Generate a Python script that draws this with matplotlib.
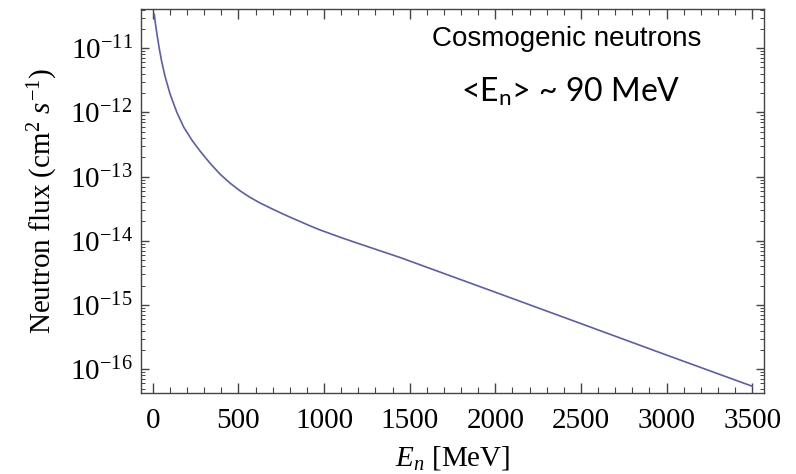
import matplotlib
matplotlib.use("Agg")
import matplotlib.pyplot as plt
from matplotlib.ticker import MultipleLocator, FixedLocator, NullFormatter

# Cosmogenic neutron flux spectrum (flux in cm^-2 s^-1 per energy point)
energy_mev = [8, 15, 25, 37, 50, 70, 100, 140, 180, 230, 275, 330, 391,
              450, 508, 565, 625, 690, 742, 800, 859, 920, 975, 1100,
              1209, 1443, 2000, 2500, 3000, 3500]
flux = [3.39e-11, 2.40e-11, 1.58e-11, 1.00e-11, 6.46e-12, 3.72e-12,
        1.95e-12, 1.00e-12, 5.89e-13, 3.63e-13, 2.51e-13, 1.66e-13,
        1.10e-13, 7.94e-14, 6.03e-14, 4.79e-14, 3.89e-14, 3.20e-14,
        2.75e-14, 2.34e-14, 2.00e-14, 1.70e-14, 1.48e-14, 1.12e-14,
        8.91e-15, 5.50e-15, 1.58e-15, 5.13e-16, 1.66e-16, 5.43e-17]

x_ticks = [0, 500, 1000, 1500, 2000, 2500, 3000, 3500]
y_exponents = [-16, -15, -14, -13, -12, -11]

plt.rcParams["mathtext.fontset"] = "custom"
plt.rcParams["mathtext.rm"] = "Liberation Serif"
plt.rcParams["mathtext.it"] = "Liberation Serif:italic"
plt.rcParams["mathtext.bf"] = "Liberation Serif:bold"
plt.rcParams["font.family"] = ["Liberation Serif", "DejaVu Serif"]

fig = plt.figure(figsize=(7.96, 4.74), dpi=100)
ax = fig.add_axes([0.177, 0.171, 0.783, 0.810])

ax.plot(energy_mev, flux, color="#5c5cb0", lw=1.2)

ax.set_yscale("log")
ymin, ymax = 10 ** -16.37, 10 ** -10.39
ax.set_xlim(-70, 3570)
ax.set_ylim(ymin, ymax)

ax.set_xticks(x_ticks)
ax.xaxis.set_minor_locator(MultipleLocator(100))

major_y = [10.0 ** e for e in y_exponents]
minor_y = [m * 10.0 ** e for e in range(-17, -10) for m in range(2, 10)]
minor_y = [v for v in minor_y if ymin <= v <= ymax]
ax.yaxis.set_major_locator(FixedLocator(major_y))
ax.yaxis.set_minor_locator(FixedLocator(minor_y))
ax.yaxis.set_minor_formatter(NullFormatter())

edge = "#444444"
for s in ax.spines.values():
    s.set_color(edge)
    s.set_linewidth(1.0)
ax.tick_params(which="both", direction="in", top=True, right=True,
               color=edge, labelsize=21, labelcolor="black")
ax.tick_params(axis="x", which="major", length=7, width=1.0, pad=11)
ax.tick_params(axis="x", which="minor", length=4, width=0.8)
ax.tick_params(axis="y", which="major", length=6, width=1.0, pad=6)
ax.tick_params(axis="y", which="minor", length=3, width=0.7)

ax.set_xlabel(r"$E_n$ [MeV]", fontsize=21, labelpad=7)
ax.set_ylabel(r"Neutron flux (cm$^2$ $s^{-1}$)", fontsize=21, labelpad=7)

fig.text(567 / 796, 1 - 46 / 474, "Cosmogenic neutrons",
         family="Liberation Sans", fontsize=20, ha="center", va="baseline")
fig.text(571 / 796, 1 - 101 / 474, r"<E$_\mathregular{n}$> ~ 90 MeV",
         family="Lato", fontsize=23, ha="center", va="baseline")

fig.savefig("out.png", dpi=100)
